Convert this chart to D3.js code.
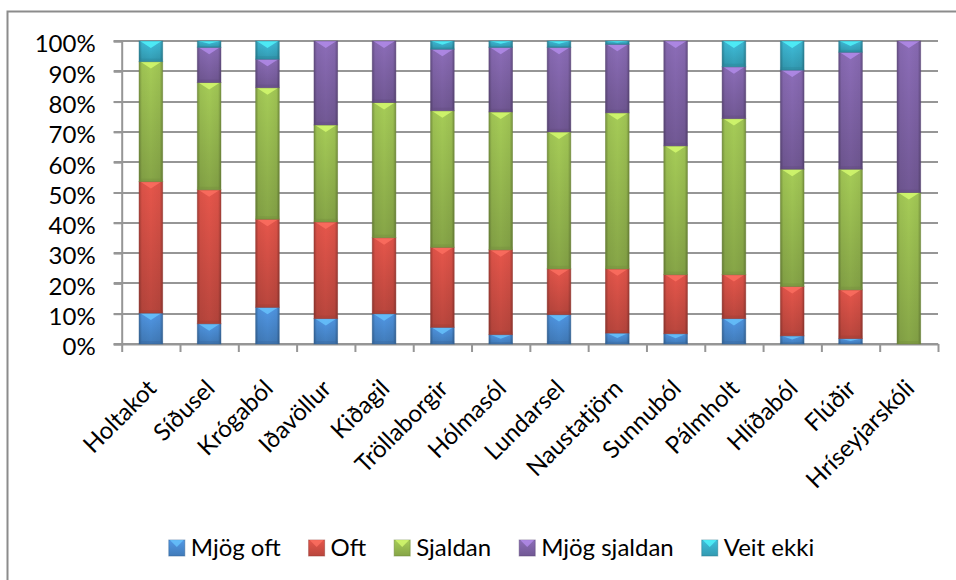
<!DOCTYPE html>
<html>
<head>
<meta charset="utf-8">
<script src="https://cdn.jsdelivr.net/npm/d3@7"></script>
<style>
  html, body { margin: 0; padding: 0; background: #fff; }
  svg { display: block; }
  text { font-family: Lato, "Open Sans", sans-serif; fill: #000; }
</style>
</head>
<body>
<svg id="chart" width="956" height="580"></svg>
<script>
const categories = ["Holtakot", "Síðusel", "Krógaból", "Iðavöllur", "Kiðagil", "Tröllaborgir", "Hólmasól",
  "Lundarsel", "Naustatjörn", "Sunnuból", "Pálmholt", "Hlíðaból", "Flúðir", "Hríseyjarskóli"];
const seriesNames = ["Mjög oft", "Oft", "Sjaldan", "Mjög sjaldan", "Veit ekki"];
const mjogOft     = [10.2, 6.7, 12.1, 8.4, 10.0, 5.5, 3.1, 9.7, 3.6, 3.4, 8.4, 2.7, 1.8, 0];
const oft         = [43.4, 44.2, 29.1, 31.9, 25.1, 26.4, 28.0, 15.1, 21.2, 19.5, 14.5, 16.3, 16.1, 0];
const sjaldan     = [39.6, 35.4, 43.4, 32.0, 44.6, 45.1, 45.5, 45.2, 51.5, 42.5, 51.5, 38.7, 39.8, 50];
const mjogSjaldan = [0, 11.6, 9.4, 27.7, 20.3, 20.3, 21.3, 27.9, 22.6, 34.6, 17.1, 32.7, 38.6, 50];
const veitEkki    = [6.8, 2.1, 6.0, 0, 0, 2.7, 2.1, 2.1, 1.1, 0, 8.5, 9.6, 3.7, 0];
const yTicks = [0, 0.1, 0.2, 0.3, 0.4, 0.5, 0.6, 0.7, 0.8, 0.9, 1.0];
const colors = ["#4a8bd2", "#d24f45", "#98bb50", "#8064a8", "#3aafc9"];

const seriesValues = [mjogOft, oft, sjaldan, mjogSjaldan, veitEkki];
const table = categories.map((c, i) => {
  const row = { category: c };
  seriesNames.forEach((s, j) => row[s] = seriesValues[j][i]);
  return row;
});

const svg = d3.select("#chart");
const defs = svg.append("defs");

const plotLeft = 121.7, plotRight = 938, plotTop = 41, plotBottom = 344;

// outer chart border
svg.append("rect")
  .attr("x", 7.5).attr("y", 11.5).attr("width", 1000).attr("height", 700)
  .attr("fill", "none").attr("stroke", "#8c8c8c").attr("stroke-width", 2);

const x = d3.scaleBand().domain(categories).range([plotLeft, plotRight]).padding(0);
const xEdges = d3.scaleLinear().domain([0, categories.length]).range([plotLeft, plotRight]);
const y = d3.scaleLinear().domain([0, 1]).range([plotBottom, plotTop]);

// gridlines
svg.append("g").selectAll("line").data(yTicks).join("line")
  .attr("x1", plotLeft - 8).attr("x2", plotRight)
  .attr("y1", d => Math.round(y(d))).attr("y2", d => Math.round(y(d)))
  .attr("stroke", "#969696").attr("stroke-width", 2);

// y axis
const yAxis = svg.append("g").attr("transform", `translate(${plotLeft},0)`)
  .call(d3.axisLeft(y).tickValues(yTicks).tickFormat(d3.format(".0%")).tickSize(8).tickPadding(18));
yAxis.select(".domain").attr("stroke", "#969696").attr("stroke-width", 2);
yAxis.selectAll(".tick line").attr("stroke", "#969696").attr("stroke-width", 2);
yAxis.selectAll(".tick text").attr("font-size", 24).attr("font-family", "Lato").attr("dy", "0.45em");

// x axis (ticks at category boundaries)
const xAxis = svg.append("g").attr("transform", `translate(0,${plotBottom})`)
  .call(d3.axisBottom(xEdges).tickValues(d3.range(categories.length + 1)).tickFormat("").tickSize(8).tickSizeOuter(0));
xAxis.select(".domain").attr("stroke", "#969696").attr("stroke-width", 2);
xAxis.selectAll(".tick line").attr("stroke", "#969696").attr("stroke-width", 2);

// gradients per series
colors.forEach((c, i) => {
  const base = d3.color(c);
  const g = defs.append("linearGradient").attr("id", "vg" + i)
    .attr("x1", 0).attr("y1", 0).attr("x2", 0).attr("y2", 1);
  g.append("stop").attr("offset", "0%").attr("stop-color", base.brighter(0.25).formatHex());
  g.append("stop").attr("offset", "100%").attr("stop-color", base.darker(0.35).formatHex());
});
const hg = defs.append("linearGradient").attr("id", "hshade").attr("x1", 0).attr("x2", 1).attr("y1", 0).attr("y2", 0);
[[0, 0.28], [0.12, 0.05], [0.5, 0], [0.88, 0.05], [1, 0.28]].forEach(([o, a]) =>
  hg.append("stop").attr("offset", o).attr("stop-color", "#000").attr("stop-opacity", a));

const stack = d3.stack().keys(seriesNames).offset(d3.stackOffsetExpand);
const stacked = stack(table);

const barW = x.bandwidth() * 0.405;
const bars = svg.append("g");
stacked.forEach((layer, si) => {
  const base = d3.color(colors[si]);
  layer.forEach((d) => {
    const v = d[1] - d[0];
    if (v <= 0) return;
    const cx = x(d.data.category) + x.bandwidth() / 2;
    const x0 = cx - barW / 2;
    const yTop = y(d[1]), yBot = y(d[0]);
    const h = yBot - yTop;
    const g = bars.append("g");
    g.append("rect").attr("x", x0).attr("y", yTop).attr("width", barW).attr("height", h)
      .attr("fill", `url(#vg${si})`);
    g.append("rect").attr("x", x0).attr("y", yTop).attr("width", barW).attr("height", h)
      .attr("fill", "url(#hshade)");
    const th = Math.min(7, h * 0.45);
    g.append("path")
      .attr("d", `M${x0 + 1},${yTop} L${x0 + barW - 1},${yTop} L${cx},${yTop + th} Z`)
      .attr("fill", base.brighter(1.0).formatHex()).attr("opacity", 0.75);
    const bh = Math.min(3, h * 0.2);
    g.append("rect").attr("x", x0).attr("y", yBot - bh).attr("width", barW).attr("height", bh)
      .attr("fill", base.darker(0.8).formatHex()).attr("opacity", 0.35);
    g.append("rect").attr("x", x0).attr("y", yTop).attr("width", barW).attr("height", h)
      .attr("fill", "none").attr("stroke", base.darker(1).formatHex()).attr("stroke-opacity", 0.45).attr("stroke-width", 1);
  });
});

// x labels, rotated
svg.append("g").selectAll("text").data(categories).join("text")
  .attr("transform", d => `translate(${x(d) + x.bandwidth() / 2 + 7},${390}) rotate(-45)`)
  .attr("text-anchor", "end")
  .attr("font-size", 24)
  .text(d => d);

// legend
const legend = svg.append("g");
const items = legend.selectAll("g").data(seriesNames).join("g");
items.append("text").attr("x", 22).attr("y", 556).attr("font-size", 24).text(d => d);
let cursor = 0;
const widths = [];
items.each(function (d, i) {
  const w = 22 + this.querySelector("text").getComputedTextLength();
  widths.push(w);
});
const gap = 28;
const total = d3.sum(widths) + gap * (widths.length - 1);
cursor = 491.5 - total / 2;
items.each(function (d, i) {
  d3.select(this).attr("transform", `translate(${cursor},0)`);
  cursor += widths[i] + gap;
});
items.each(function (d, i) {
  const base = d3.color(colors[i]);
  const g = d3.select(this);
  g.insert("rect", "text").attr("x", 0).attr("y", 540).attr("width", 16).attr("height", 16)
    .attr("fill", `url(#vg${i})`).attr("stroke", base.darker(1).formatHex()).attr("stroke-opacity", 0.5);
  g.insert("path", "text").attr("d", "M1,540 L15,540 L8,547 Z").attr("fill", base.brighter(1).formatHex()).attr("opacity", 0.75);
});
</script>
</body>
</html>
